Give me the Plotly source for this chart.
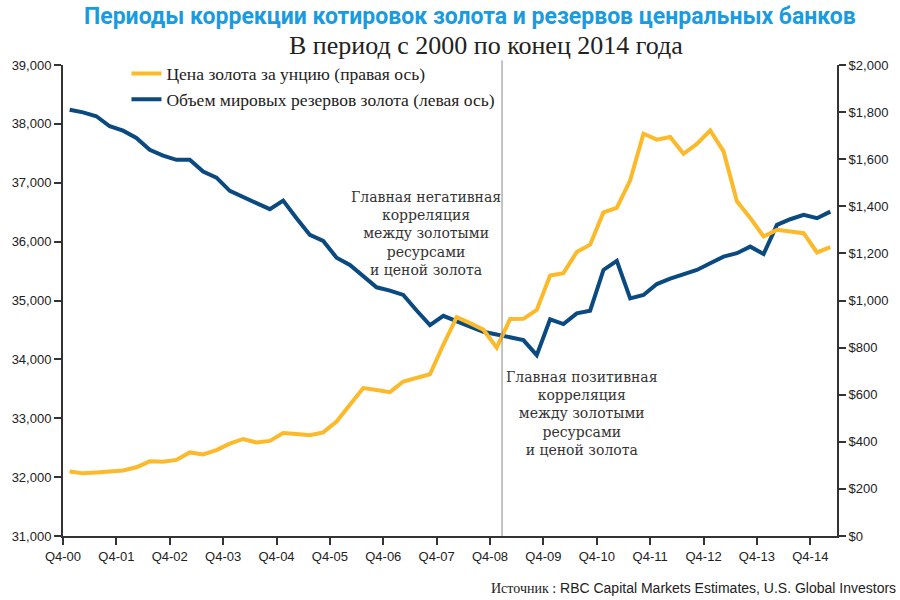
import plotly.graph_objects as go

# ---- data ----
periods = [f"Q{q}-{y:02d}" for y in range(1, 16) for q in range(1, 5)][:58]

gold_reserves = [38240, 38195, 38130, 37960, 37885, 37760, 37560, 37460, 37390, 37390,
                 37190, 37088, 36862, 36765, 36653, 36551, 36697, 36398, 36114, 36012,
                 35728, 35604, 35405, 35224, 35167, 35094, 34830, 34583, 34740, 34640,
                 34555, 34470, 34425, 34370, 34328, 34073, 34680, 34600, 34782, 34827,
                 35519, 35672, 35037, 35094, 35280, 35370, 35440, 35519, 35633, 35745,
                 35803, 35915, 35790, 36284, 36380, 36454, 36398, 36510]

gold_price = [274, 266, 270, 273, 278, 292, 317, 315, 323, 355,
              346, 365, 392, 412, 397, 404, 437, 433, 428, 440,
              486, 557, 628, 620, 611, 656, 670, 687, 812, 929,
              904, 876, 800, 921, 922, 960, 1106, 1116, 1206, 1237,
              1374, 1393, 1510, 1708, 1683, 1694, 1623, 1665, 1722, 1633,
              1421, 1350, 1272, 1300, 1293, 1286, 1204, 1227]

tick_labels = [f"Q4-{y:02d}" for y in range(0, 15)]
left_ticks = [31000, 32000, 33000, 34000, 35000, 36000, 37000, 38000, 39000]
right_ticks = [0, 200, 400, 600, 800, 1000, 1200, 1400, 1600, 1800, 2000]
split_point = 32.9  # boundary between the two correlation periods (quarters since Q4-00)

title = "Периоды коррекции котировок золота и резервов ценральных банков"
subtitle = "В период с 2000 по конец 2014 года"
name_price = "Цена золота за унцию (правая ось)"
name_res = "Объем мировых резервов золота (левая ось)"
note_neg = "Главная негативная<br>корреляция<br>между золотыми<br>ресурсами<br>и ценой золота"
note_pos = "Главная позитивная<br>корреляция<br>между золотыми<br>ресурсами<br>и ценой золота"

# ---- figure ----
x = [i + 0.5 for i in range(len(periods))]
BLUE = "#0b4a80"
GOLD = "#fcb92a"
SERIF = "Liberation Serif"
SERIF2 = "DejaVu Serif"
SANS = "Liberation Sans"

fig = go.Figure()
fig.add_trace(go.Scatter(x=x, y=gold_price, name=name_price, yaxis="y2", mode="lines",
                         line=dict(color=GOLD, width=4), text=periods))
fig.add_trace(go.Scatter(x=x, y=gold_reserves, name=name_res, yaxis="y", mode="lines",
                         line=dict(color=BLUE, width=4), text=periods))

axis_common = dict(showgrid=False, zeroline=False, showline=True, linecolor="#333",
                   linewidth=2, ticks="outside", ticklen=7, tickwidth=2, tickcolor="#333",
                   tickfont=dict(family=SANS, size=13, color="#222"))

fig.update_layout(
    width=900, height=600,
    margin=dict(l=61, r=59, t=65, b=64),
    paper_bgcolor="white", plot_bgcolor="white",
    showlegend=True,
    legend=dict(x=0.082, y=1.02, xanchor="left", yanchor="top", bgcolor="rgba(0,0,0,0)",
                font=dict(family=SERIF, size=17.5, color="#222"), itemwidth=30,
                tracegroupgap=0),
    xaxis=dict(range=[0, 58], tickvals=[4 * i for i in range(len(tick_labels))],
               ticktext=tick_labels, **axis_common),
    yaxis=dict(range=[31000, 39000], tickvals=left_ticks,
               ticktext=[f"{v:,}" for v in left_ticks], **axis_common),
    yaxis2=dict(range=[0, 2000], overlaying="y", side="right", tickvals=right_ticks,
                ticktext=[f"${v:,}" for v in right_ticks], **axis_common),
)

fig.add_shape(type="line", xref="x", yref="paper", x0=split_point, x1=split_point,
              y0=0, y1=1.01, line=dict(color="#888", width=1))

fig.add_annotation(text=f"<b>{title}</b>", xref="paper", yref="paper", x=0.5256, y=1.102,
                   xanchor="center", yanchor="middle", showarrow=False,
                   font=dict(family="Roboto", size=23, color="#1a9be0"))
fig.add_annotation(text=subtitle, xref="paper", yref="paper", x=0.547, y=1.041,
                   xanchor="center", yanchor="middle", showarrow=False,
                   font=dict(family=SERIF, size=26, color="#222"))
fig.add_annotation(text=note_neg, xref="x", yref="paper", x=27.2, y=0.643,
                   xanchor="center", yanchor="middle", showarrow=False,
                   font=dict(family=SERIF2, size=14, color="#333"))
fig.add_annotation(text=note_pos, xref="x", yref="paper", x=38.9, y=0.261,
                   xanchor="center", yanchor="middle", showarrow=False,
                   font=dict(family=SERIF2, size=14, color="#333"))
fig.add_annotation(text=f"<span style='font-family:{SERIF}'>Источник :</span> RBC Capital Markets Estimates, U.S. Global Investors",
                   xref="paper", yref="paper", x=1.079, y=-0.11, xanchor="right",
                   yanchor="middle", showarrow=False,
                   font=dict(family=SANS, size=14, color="#222"))

fig.write_html("out.html")
